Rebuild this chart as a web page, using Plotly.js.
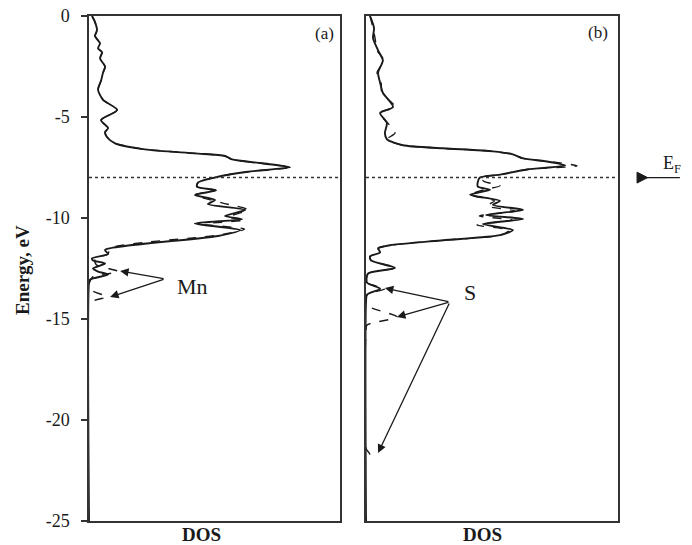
<!DOCTYPE html>
<html>
<head>
<meta charset="utf-8">
<script src="https://cdn.plot.ly/plotly-3.0.1.min.js"></script>
<style>html,body{margin:0;padding:0;background:#fff;}</style>
</head>
<body>
<div id="chart" style="width:692px;height:545px;"></div>
<script>
// ---- Data (energy in eV, DOS in arbitrary units 0-100) ----
const energyA_total = [0,-0.3,-0.7,-1.0,-1.35,-1.6,-1.8,-2.1,-2.5,-2.8,-3.2,-3.65,-4.15,-4.65,-5.15,-5.55,-5.75,-6.0,-6.3,-6.6,-6.8,-6.93,-7.1,-7.29,-7.49,-7.71,-7.96,-8.25,-8.45,-8.63,-8.86,-9.11,-9.31,-9.6,-9.9,-10.06,-10.27,-10.6,-10.89,-11.58,-11.78,-12.0,-12.1,-12.25,-12.5,-12.65,-12.8,-13.05,-13.2,-25];
const dosA_total    = [1.2,2.4,3.2,2.4,4.4,3.6,5.2,4.4,6.4,5.6,4.8,3.6,5.6,11.2,4.8,7.6,6.4,7.2,10.4,22.3,42.2,54.2,57.0,68.9,80.1,63.3,51.4,43.4,43.0,50.6,42.2,50.2,47.4,62.2,54.2,61.0,42.2,60.2,51.4,6.4,7.6,1.2,1.6,6.4,1.6,3.6,7.6,0.4,0,0];

const energyA_Mn = [0,-0.3,-0.7,-1.0,-1.35,-1.6,-1.8,-2.1,-2.5,-2.8,-3.2,-3.65,-4.15,-4.65,-5.15,-5.55,-5.75,-6.0,-6.3,-6.6,-6.8,-6.93,-7.1,-7.29,-7.49,-7.71,-7.96,-8.25,-8.45,-8.63,-8.86,-9.25,-9.6,-9.95,-10.1,-10.3,-10.55,-10.85,-11.5,-11.78,-12.0,-12.3,-12.66,-12.9,-13.3,-13.6,-13.9,-14.25,-25];
const dosA_Mn    = [1.2,2.4,3.2,2.4,4.4,3.6,5.2,4.4,6.4,5.6,4.8,3.6,5.6,11.2,4.8,7.6,6.4,7.2,10.4,22.3,42.2,54.2,57.0,68.9,80.1,63.3,51.4,43.4,43.0,50.6,42.2,53.0,63.4,55.4,62.0,46.0,62.0,51.4,8.4,7.6,2.4,2.8,11.7,1.6,0,1.2,7.0,0,0];

const energyB_total = [0,-0.6,-1.1,-1.7,-2.2,-2.8,-3.3,-3.8,-4.5,-4.8,-5.3,-5.8,-6.1,-6.4,-6.55,-6.7,-6.85,-7.05,-7.2,-7.4,-7.6,-7.85,-8.0,-8.2,-8.45,-8.6,-8.85,-9.15,-9.35,-9.6,-9.85,-10.05,-10.3,-10.6,-10.85,-11.1,-11.35,-11.5,-11.7,-11.9,-12.1,-12.47,-12.75,-13.2,-13.5,-13.8,-14.2,-25];
const dosB_total    = [1.6,3.2,2.8,4.8,6.7,4.8,5.6,6.7,10.7,5.6,8.3,7.5,8.3,14.7,30.6,50.4,58.3,62.3,71.8,79.0,63.9,53.2,45.2,44.4,44.4,49.2,41.3,53.2,50.4,62.3,47.6,62.3,46.4,58.3,53.2,30.6,9.5,4.8,5.6,1.6,2.0,11.5,0.8,0.4,5.6,0.4,0,0];

const energyB_S = [0,-0.6,-1.1,-1.7,-2.2,-2.8,-3.3,-3.8,-4.5,-4.8,-5.3,-5.8,-6.1,-6.4,-6.55,-6.7,-6.85,-7.05,-7.2,-7.42,-7.6,-7.85,-8.0,-8.2,-8.4,-8.6,-8.85,-9.15,-9.4,-9.65,-9.9,-10.1,-10.35,-10.6,-10.85,-11.1,-11.35,-11.5,-11.7,-11.9,-12.1,-12.47,-12.75,-13.2,-13.5,-13.8,-14.3,-14.9,-15.3,-15.6,-21.4,-21.7,-22.0,-25];
const dosB_S    = [1.6,2.8,3.6,4.4,7.1,4.4,6.0,6.3,11.5,5.2,8.7,11.5,8.3,14.7,30.6,50.4,58.3,62.3,73.0,83.7,63.9,53.2,45.2,47.0,53.2,47.0,41.3,51.0,48.0,59.0,45.0,58.0,44.0,57.0,53.2,30.6,9.5,4.8,5.6,1.6,2.0,11.5,0.8,0.4,7.5,0.4,0,12.3,0.4,0,0,1.5,0,0];

// tick labels of energy axis
const energyTicks = [0,-5,-10,-15,-20,-25];
const energyTickText = ['0','-5','-10','-15','-20','-25'];
const fermiEnergy = [-8];

// arrows: [tailDOS, tailE, headDOS, headE]
const mnArrows = [[30.3,-13.02,12.4,-12.62],[30.3,-13.02,8.4,-13.91]];
const sArrows  = [[33.3,-14.16,7.5,-13.47],[33.3,-14.16,12.3,-14.9],[33.3,-14.16,4.8,-21.63]];

const serif = 'Liberation Serif, Times New Roman, serif';
const ink = '#1a1a1a';

function curve(xs, ys, xa, ya, dash, w){
  return {x: xs, y: ys, xaxis: xa, yaxis: ya, type:'scatter', mode:'lines',
    line:{color: ink, width: w, dash: dash, shape:'spline', smoothing:0.7},
    hoverinfo:'skip', showlegend:false};
}

const traces = [
  curve(dosA_Mn, energyA_Mn, 'x', 'y', 'dash', 1.4),
  curve(dosA_total, energyA_total, 'x', 'y', 'solid', 1.9),
  curve(dosB_S, energyB_S, 'x2', 'y2', 'dash', 1.4),
  curve(dosB_total, energyB_total, 'x2', 'y2', 'solid', 1.9)
];

const frameAxis = {showline:true, mirror:true, linecolor:'#333', linewidth:1.6, showgrid:false, zeroline:false, ticks:'', showticklabels:false, range:[0,100], fixedrange:true};

const annotations = [];
function arrow(a, xr, yr){
  annotations.push({x:a[2], y:a[3], ax:a[0], ay:a[1], xref:xr, yref:yr, axref:xr, ayref:yr,
    text:'', showarrow:true, arrowhead:2, arrowsize:1.3, arrowwidth:1.3, arrowcolor:ink});
}
mnArrows.forEach(a=>arrow(a,'x','y'));
sArrows.forEach(a=>arrow(a,'x2','y2'));

function label(x, y, xr, yr, text, size, extra){
  return Object.assign({x:x, y:y, xref:xr, yref:yr, text:text, showarrow:false,
    xanchor:'center', yanchor:'middle', font:{family:serif, size:size, color:ink}}, extra||{});
}

annotations.push(
  label(41.4, -13.37, 'x', 'y', 'Mn', 22),
  label(41.3, -13.71, 'x2', 'y2', 'S', 22),
  label(0.446, 0.966, 'paper', 'paper', '(a)', 17),
  label(0.962, 0.968, 'paper', 'paper', '(b)', 17),
  label(0.2136, -0.0265, 'paper', 'paper', '<b>DOS</b>', 19),
  label(0.7448, -0.0265, 'paper', 'paper', '<b>DOS</b>', 19),
  label(-0.1267, 0.497, 'paper', 'paper', '<b>Energy, eV</b>', 19, {textangle:-90}),
  label(1.102, fermiEnergy[0]+0.65, 'paper', 'y', 'E<sub>F</sub>', 18)
);

const shapes = [
  {type:'line', xref:'x', yref:'y', x0:0, x1:100, y0:fermiEnergy[0], y1:fermiEnergy[0], line:{color:'#333', width:1.5, dash:'dot'}},
  {type:'line', xref:'x2', yref:'y2', x0:0, x1:100, y0:fermiEnergy[0], y1:fermiEnergy[0], line:{color:'#333', width:1.5, dash:'dot'}},
  {type:'line', xref:'paper', yref:'y', x0:1.052, x1:1.117, y0:fermiEnergy[0], y1:fermiEnergy[0], line:{color:ink, width:1.3}},
  {type:'path', xref:'paper', yref:'y', path:'M 1.036 -7.73 L 1.056 -8 L 1.036 -8.27 Z', fillcolor:ink, line:{color:ink, width:1}}
];

const layout = {
  width:692, height:545,
  margin:{l:89, r:74, t:16, b:24, pad:0},
  paper_bgcolor:'#fff', plot_bgcolor:'#fff',
  showlegend:false,
  xaxis: Object.assign({}, frameAxis, {domain:[0,0.4745], anchor:'y'}),
  xaxis2: Object.assign({}, frameAxis, {domain:[0.5236,1], anchor:'y2'}),
  yaxis: {range:[-25,0], anchor:'x', showline:true, mirror:true, linecolor:'#333', linewidth:1.6,
    showgrid:false, zeroline:false, ticks:'outside', ticklen:6, tickwidth:1.3, tickcolor:'#333',
    ticklabelstandoff:8,
    tickvals:energyTicks, ticktext:energyTickText, tickfont:{family:serif, size:18, color:ink}, fixedrange:true},
  yaxis2: {range:[-25,0], anchor:'x2', showline:true, mirror:true, linecolor:'#333', linewidth:1.6,
    showgrid:false, zeroline:false, ticks:'', showticklabels:false, fixedrange:true},
  annotations: annotations,
  shapes: shapes
};

Plotly.newPlot('chart', traces, layout, {displayModeBar:false, staticPlot:true});
</script>
</body>
</html>
